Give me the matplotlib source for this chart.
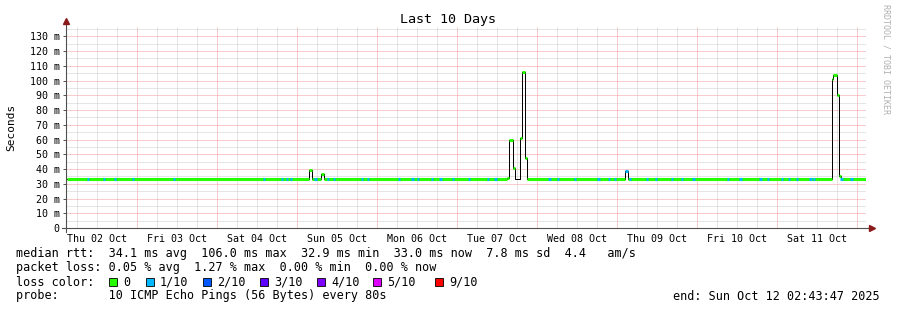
import matplotlib
matplotlib.use("Agg")
import matplotlib.pyplot as plt
from matplotlib.patches import Rectangle

plt.rcParams["font.family"] = ["DejaVu Sans Mono"]

W, H = 897, 310

# time axis: hours since Thu 02 Oct 00:00
t_start = 2.7297   # Thu 02 Oct 02:43:47
t_end = 242.7297   # Sun 12 Oct 02:43:47
day_labels = ["Thu 02 Oct", "Fri 03 Oct", "Sat 04 Oct", "Sun 05 Oct", "Mon 06 Oct",
              "Tue 07 Oct", "Wed 08 Oct", "Thu 09 Oct", "Fri 10 Oct", "Sat 11 Oct"]

# median rtt as steps (hours, ms) and loss class of each step
median_t = [3.03, 75.63, 76.53, 79.23, 80.13, 135.03, 135.54, 136.92, 137.52,
            139.02, 139.62, 140.34, 140.94, 170.43, 171.33, 232.62, 232.92,
            234.12, 234.72, 235.14, 242.64]
median_ms = [33, 39, 33, 36.7, 33, 34, 60, 40.6, 33,
             61, 106, 47.4, 33, 38.5, 33, 101, 104,
             90.5, 35, 33, 33]
median_loss = [0, 0, 0, 0, 0, 0, 0, 0, None,
               0, 0, 0, 0, 1, 0, 0, 0,
               0, 0, 0, 0]

# short periods with 1/10 loss on the baseline
baseline_ms = 33
loss1_t = [9.33, 14.13, 17.43, 22.83, 35.13, 62.13, 67.53, 69.03, 70.23, 77.58,
           81.33, 83.13, 91.53, 93.33, 102.63, 106.68, 108.33, 112.53, 115.08,
           118.83, 123.63, 129.33, 131.58, 147.78, 150.33, 155.43, 162.48,
           165.63, 167.43, 171.93, 177.03, 179.73, 184.53, 187.53, 190.98,
           201.33, 205.08, 211.08, 213.33, 217.53, 219.63, 222.03, 226.08,
           227.13, 235.38, 238.38]

loss_labels = ["0", "1/10", "2/10", "3/10", "4/10", "5/10", "9/10"]
loss_colors = ["#26ff00", "#00b8ff", "#0059ff", "#5e00ff", "#7e00ff", "#dd00ff", "#ff0000"]

fig = plt.figure(figsize=(W / 100, H / 100), dpi=100)
fig.patch.set_facecolor("white")
ax = fig.add_axes([66 / W, (H - 228) / H, 800 / W, 202 / H])
ax.set_xlim(t_start, t_end)
ax.set_ylim(0, 137.0)
for s in ax.spines.values():
    s.set_visible(False)

# grid
dot = (0, (1, 1))
major_c = "#f29a9a"
minor_c = "#cccccc"
h = 0
while h <= t_end:
    if h >= t_start:
        c = major_c if h % 24 == 0 else minor_c
        ax.axvline(h, color=c, lw=0.72, ls=dot, zorder=1)
    h += 6
for v in range(5, 140, 5):
    c = major_c if v % 10 == 0 else minor_c
    ax.axhline(v, color=c, lw=0.72, ls=dot, zorder=1)

# median line
ax.step(median_t, median_ms, where="post", color="black", lw=0.72, zorder=3)
for i in range(len(median_t) - 1):
    if median_loss[i] is None:
        continue
    ax.hlines(median_ms[i], median_t[i], median_t[i + 1],
              color=loss_colors[median_loss[i]], lw=2.2, zorder=4)
for t in loss1_t:
    ax.hlines(baseline_ms, t - 0.35, t + 0.35, color=loss_colors[1], lw=2.2, zorder=5)

# axes with arrows
ax.plot([0, 0], [-0.02, 1.02], color="#505050", lw=0.8, transform=ax.transAxes, clip_on=False, zorder=6)
ax.plot([-0.005, 1.005], [0, 0], color="#505050", lw=0.8, transform=ax.transAxes, clip_on=False, zorder=6)
ax.plot(0, 1.027, marker="^", color="#8b1a1a", ms=4, transform=ax.transAxes, clip_on=False, zorder=7)
ax.plot(1.0075, 0, marker=">", color="#8b1a1a", ms=4, transform=ax.transAxes, clip_on=False, zorder=7)

# ticks
yt = list(range(0, 140, 10))
ax.set_yticks(yt)
ax.set_yticklabels(["0" if v == 0 else "%d m" % v for v in yt])
ax.set_xticks([24 * i + 12 for i in range(len(day_labels))])
ax.set_xticklabels(day_labels)
ax.tick_params(axis="y", length=2, width=0.7, color="#505050", pad=2.5, labelsize=7.2)
ax.tick_params(axis="x", length=0, pad=4.5, labelsize=7.2)

def px(x, y):
    return x / W, 1 - y / H

fig.text(*px(448, 19), "Last 10 Days", ha="center", va="center", fontsize=9.6)
fig.text(*px(11, 127), "Seconds", ha="center", va="center", rotation=90, fontsize=8)
fig.text(*px(886, 4), "RRDTOOL / TOBI OETIKER", ha="center", va="top",
         rotation=270, fontsize=6, color="#b0b0b0")

fs = 8.5
fig.text(*px(16, 254), "median rtt:  34.1 ms avg  106.0 ms max  32.9 ms min  33.0 ms now  7.8 ms sd  4.4   am/s",
         va="center", fontsize=fs)
fig.text(*px(16, 268), "packet loss: 0.05 % avg  1.27 % max  0.00 % min  0.00 % now",
         va="center", fontsize=fs)
fig.text(*px(16, 282), "loss color:", va="center", fontsize=fs)
sq_x = [109, 146, 203, 260, 317, 373, 435]
for x, lab, col in zip(sq_x, loss_labels, loss_colors):
    fig.add_artist(Rectangle(px(x, 286), 8 / W, 8 / H, transform=fig.transFigure,
                             facecolor=col, edgecolor="black", lw=0.6))
    fig.text(*px(x + 14, 282), lab, va="center", fontsize=fs)
fig.text(*px(16, 296), "probe:       10 ICMP Echo Pings (56 Bytes) every 80s", va="center", fontsize=fs)
fig.text(*px(880, 296), "end: Sun Oct 12 02:43:47 2025", ha="right", va="center", fontsize=fs)

fig.savefig("out.png", dpi=100)
